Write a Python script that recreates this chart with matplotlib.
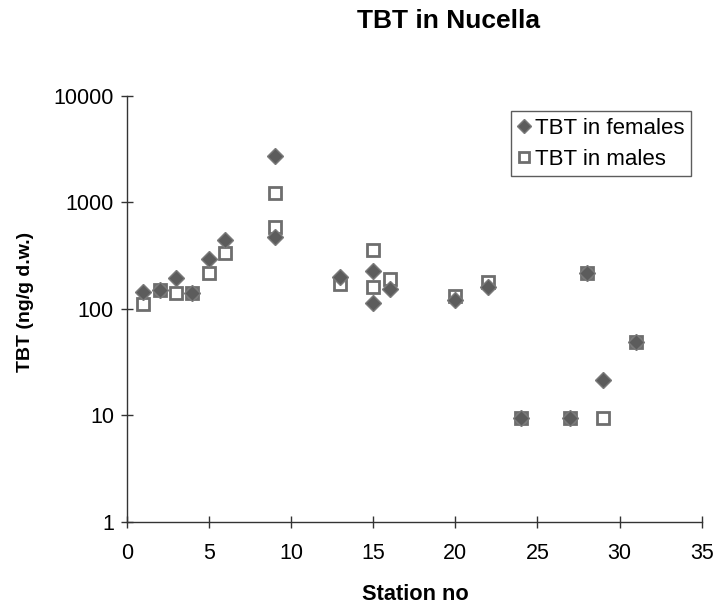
import matplotlib
matplotlib.use('Agg')
import matplotlib.pyplot as plt

# Station numbers and TBT concentrations (ng/g d.w.)
stations_f = [1, 2, 3, 4, 5, 6, 9, 9, 13, 15, 15, 16, 20, 22, 24, 27, 28, 29, 31]
tbt_females = [143, 150, 196, 140, 295, 439, 2710, 472, 200, 229, 113, 152, 122, 160, 9.5, 9.5, 218, 21.6, 48.5]

stations_m = [1, 2, 3, 4, 5, 6, 9, 9, 13, 15, 15, 16, 20, 22, 24, 27, 28, 29, 31]
tbt_males = [110, 150, 141, 141, 218, 333, 1225, 586, 172, 359, 162, 192, 133, 178, 9.5, 9.5, 218, 9.5, 48.5]

y_ticks = [1, 10, 100, 1000, 10000]
x_ticks = [0, 5, 10, 15, 20, 25, 30, 35]

plt.rcParams['font.family'] = ['Liberation Sans', 'DejaVu Sans']

fig = plt.figure(figsize=(7.16, 6.08), dpi=100)
ax = fig.add_axes([0.177, 0.1414, 0.803, 0.7012])

# males first so the female diamonds sit on top
ax.plot(stations_m, tbt_males, linestyle='none', marker='s', markersize=9,
        markerfacecolor='white', markeredgecolor='#6e6e6e', markeredgewidth=2,
        label='TBT in males', zorder=3)
ax.plot(stations_f, tbt_females, linestyle='none', marker='D', markersize=8.5,
        markerfacecolor='#5c5c5c', markeredgecolor='#7a7a7a', markeredgewidth=1,
        label='TBT in females', zorder=4)

ax.set_yscale('log')
ax.set_ylim(1, 10000)
ax.set_xlim(0, 35)
ax.set_yticks(y_ticks)
ax.set_yticklabels([str(v) for v in y_ticks])
ax.set_xticks(x_ticks)
ax.minorticks_off()

for s in ['top', 'right']:
    ax.spines[s].set_visible(False)
for s in ['left', 'bottom']:
    ax.spines[s].set_color('#333333')
    ax.spines[s].set_linewidth(1)

ax.tick_params(axis='both', direction='inout', length=8.5, width=1, color='#333333',
               labelsize=15.5, labelcolor='black')
ax.tick_params(axis='x', pad=11)
ax.tick_params(axis='y', pad=5)

ax.set_xlabel('Station no', fontsize=15.7, fontweight='bold')
ax.xaxis.set_label_coords(0.502, -0.145)
ax.set_ylabel('TBT (ng/g d.w.)', fontsize=14, fontweight='bold')
ax.yaxis.set_label_coords(-0.162, 0.516)

fig.text(0.626, 0.966, 'TBT in Nucella', fontsize=19, fontweight='bold',
         ha='center', va='center')

handles, labels = ax.get_legend_handles_labels()
leg = ax.legend(handles[::-1], labels[::-1], loc='upper left',
                bbox_to_anchor=(0.668, 0.964), fontsize=16, frameon=True,
                fancybox=False, handlelength=0.6, handletextpad=0.2,
                borderpad=0.3, labelspacing=0.45, borderaxespad=0,
                markerscale=0.8)
leg.get_frame().set_edgecolor('#333333')
leg.get_frame().set_linewidth(1)

fig.savefig('out.png', dpi=100, facecolor='white')
